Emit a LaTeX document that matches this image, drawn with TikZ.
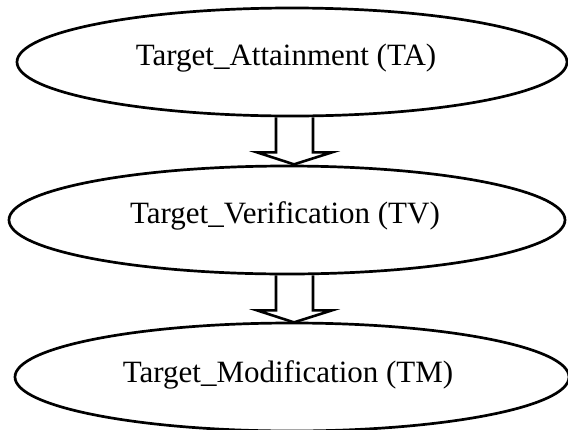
\documentclass[tikz,border=0pt]{standalone}
\usepackage{fontspec}
\setmainfont{Liberation Serif}
\usetikzlibrary{shapes.geometric,calc}
\begin{document}
\begin{tikzpicture}[x=1pt,y=-1pt,
  ell/.style={draw, ellipse, line width=2.7pt, inner sep=0pt, minimum height=108pt},
  elltext/.style={font=\fontsize{31}{34}\selectfont, inner sep=0pt},
  blockarrow/.style={draw, line width=2.6pt, line join=miter}]
\useasboundingbox (0,0) rectangle (568,429);
\node[ell, minimum width=550pt] (ta) at (292,62) {};
\node[ell, minimum width=556pt] (tv) at (287,220) {};
\node[ell, minimum width=554pt] (tm) at (292,377) {};
\node[elltext] (tatext) at ($(ta.center)+(-6,-4)$) {Target\_Attainment (TA)};
\node[elltext] (tvtext) at ($(tv.center)+(-2,-4)$) {Target\_Verification (TV)};
\node[elltext] (tmtext) at ($(tm.center)+(-4,-2)$) {Target\_Modification (TM)};
\draw[blockarrow] ($(ta.south)+(-16,0)$) -- ($(ta.south)+(-16,35)$) -- ($(ta.south)+(-35,35)$)
  -- ($(ta.south)+(2,47)$) -- ($(ta.south)+(40,35)$) -- ($(ta.south)+(21,35)$) -- ($(ta.south)+(21,0)$);
\draw[blockarrow] ($(tv.south)+(-11,0)$) -- ($(tv.south)+(-11,35)$) -- ($(tv.south)+(-30,35)$)
  -- ($(tv.south)+(7,47)$) -- ($(tv.south)+(45,35)$) -- ($(tv.south)+(26,35)$) -- ($(tv.south)+(26,0)$);
\end{tikzpicture}
\end{document}
